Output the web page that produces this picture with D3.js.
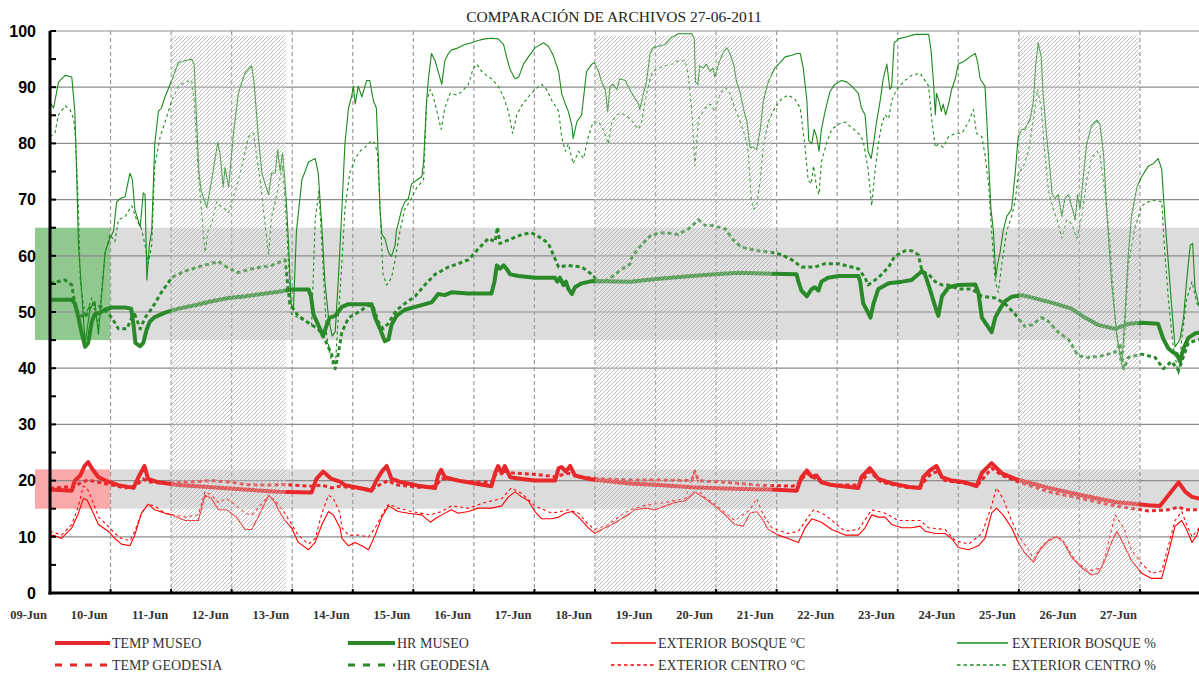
<!DOCTYPE html>
<html lang="es">
<head>
<meta charset="UTF-8">
<script src="https://d3js.org/d3.v7.min.js" charset="utf-8"></script>
<title>Comparación de archivos</title>
<style>
  body { margin: 0; background: #fff; }
  svg { display: block; }
</style>
</head>
<body>
<div id="chart"></div>
<script>
// eje x: días desde 09-Jun 00:00
const dayLabels = ["09-Jun","10-Jun","11-Jun","12-Jun","13-Jun","14-Jun","15-Jun","16-Jun","17-Jun","18-Jun",
  "19-Jun","20-Jun","21-Jun","22-Jun","23-Jun","24-Jun","25-Jun","26-Jun","27-Jun"];
const yTicks = [0,10,20,30,40,50,60,70,80,90,100];
// fines de semana / festivos (rayado)
const hatchPeriods = [[2, 3.89], [9, 11.92], [16, 17.98]];
// rangos de referencia
const hrBand = [45, 65];
const tempBand = [15, 22];

// [día, valor]
const tempMuseo = [[0,18.4],[0.36,18.2],[0.41,20.0],[0.50,20.9],[0.57,22.6],[0.63,23.3],[0.69,22.2],[0.80,20.6],[0.96,19.8],[1.13,19.2],[1.38,18.7],[1.46,20.6],[1.56,22.6],[1.62,20.3],[1.79,19.7],[2.12,19.2],[2.67,18.8],[3.22,18.4],[3.77,18.0],[4.32,17.9],[4.40,20.3],[4.51,21.6],[4.65,20.3],[4.79,19.8],
  [4.87,19.2],[5.15,18.6],[5.31,18.2],[5.39,20.0],[5.48,21.6],[5.56,22.6],[5.64,20.3],[5.81,19.7],[6.08,19.1],[6.36,18.7],[6.41,20.9],[6.46,21.9],[6.52,20.6],[6.74,20.0],[7.02,19.5],[7.29,19.0],[7.35,21.3],[7.40,22.6],[7.46,21.3],[7.51,22.6],[7.60,20.6],[7.79,20.3],[8.01,20.0],[8.34,20.0],[8.40,22.2],[8.45,22.4],[8.52,21.6],[8.59,22.6],[8.67,20.9],[8.89,20.3],[9.11,20.0],[9.58,19.5],
  [10.05,19.2],[10.60,18.8],[11.15,18.6],[11.92,18.4],[12.33,18.2],[12.41,20.6],[12.50,21.8],[12.58,20.7],[12.66,20.9],[12.74,19.7],[12.91,19.2],[13.35,18.7],[13.40,20.6],[13.54,22.2],[13.68,20.3],[13.90,19.5],[14.23,18.8],
  [14.37,18.7],[14.42,20.6],[14.53,21.8],[14.64,22.6],[14.73,20.6],[14.89,20.0],[15.11,19.7],[15.30,19.0],[15.39,21.4],[15.55,23.1],[15.72,21.3],[15.94,20.3],[16.49,18.7],[17.04,17.4],[17.59,16.2],[18.14,15.6],[18.33,15.5],[18.47,17.4],[18.64,19.7],[18.75,18.0],[18.86,17.1],[18.98,16.8]];

const tempGeodesia = [[0,18.6],[0.41,19.0],[0.52,19.7],[0.63,20.1],[0.80,19.7],[1.02,19.2],[1.24,18.7],[1.41,19.0],[1.54,20.3],[1.62,19.8],[1.90,19.5],[2.23,19.7],[2.67,20.0],[3.00,19.7],[3.22,19.3],[3.55,19.2],[3.88,19.3],[4.32,19.0],[4.49,19.2],[4.65,18.7],[4.79,19.0],
  [4.98,18.7],[5.31,18.4],[5.48,19.5],[5.59,20.0],[5.70,19.3],[6.08,18.8],[6.36,19.0],[6.47,20.3],[6.58,20.3],[6.91,19.8],[7.29,19.7],[7.40,21.9],[7.51,21.6],[7.62,21.4],[8.01,21.1],[8.34,20.7],[8.56,21.3],[8.78,20.6],[9.11,20.3],[9.58,20.1],
  [10.05,20.1],[10.60,20.0],[10.65,21.6],[10.71,20.0],[11.15,19.7],[11.70,19.2],[12.25,19.0],[12.33,19.2],[12.50,21.3],[12.69,20.0],[12.91,19.2],[13.35,19.2],[13.54,21.6],[13.73,19.7],[14.18,18.7],[14.37,19.0],
  [14.56,21.3],[14.67,21.6],[14.78,20.0],[15.11,19.5],[15.33,19.3],[15.55,22.2],[15.72,20.9],[15.94,20.0],[16.49,18.0],[17.04,16.8],[17.59,15.5],[18.14,14.6],[18.47,14.8],[18.64,15.3],[18.75,14.8],[18.98,14.8]];

const hrMuseo = [[0,52.2],[0.36,52.2],[0.41,51.5],[0.47,49.0],[0.52,46.4],[0.58,43.8],[0.63,44.5],[0.69,48.3],[0.74,49.6],[0.83,49.9],[0.91,50.4],[1.02,50.8],[1.24,50.8],[1.34,50.6],[1.38,47.7],[1.41,44.5],[1.49,43.9],[1.54,44.5],[1.60,47.0],[1.65,48.3],[1.73,49.1],[1.90,49.9],[2.12,50.6],[2.39,51.2],[2.67,51.9],[2.95,52.5],[3.22,52.8],[3.50,53.2],[3.77,53.6],[3.99,54.0],[4.27,54.0],[4.31,52.8],[4.35,49.6],[4.43,47.7],[4.51,45.7],[4.57,47.7],[4.62,49.0],[4.71,49.3],
  [4.82,50.9],[4.93,51.4],[5.31,51.4],[5.37,49.0],[5.45,47.0],[5.53,44.8],[5.59,45.1],[5.64,47.7],[5.72,49.3],[5.86,50.4],[6.03,50.9],[6.30,51.7],[6.36,52.5],[6.41,53.2],[6.52,53.0],[6.63,53.5],[6.91,53.3],[7.29,53.3],[7.34,55.4],[7.38,58.3],[7.43,57.7],[7.49,58.3],[7.54,57.7],[7.60,56.7],[7.74,56.4],[8.01,56.1],[8.34,56.1],[8.38,55.4],[8.42,56.1],[8.48,54.8],[8.52,55.4],[8.56,54.1],[8.62,53.2],[8.67,54.4],[8.78,55.1],[8.95,55.5],[9.58,55.4],
  [10.05,55.9],[10.60,56.4],[10.98,56.7],[11.37,57.0],[11.92,56.8],[12.33,56.7],[12.36,55.4],[12.41,53.8],[12.50,52.8],[12.58,54.1],[12.63,54.4],[12.69,53.8],[12.74,55.4],[12.85,56.1],[13.02,56.4],[13.35,56.4],[13.38,55.4],[13.43,51.5],[13.51,49.9],[13.55,49.0],[13.60,51.5],[13.68,54.1],[13.85,55.1],[14.07,55.4],[14.23,55.7],[14.34,56.7],
  [14.40,57.3],[14.45,56.7],[14.53,54.1],[14.62,50.9],[14.67,49.3],[14.73,52.8],[14.84,54.4],[15.00,54.8],[15.28,54.9],[15.33,53.5],[15.39,49.0],[15.47,47.7],[15.55,46.4],[15.61,49.0],[15.69,50.6],[15.77,51.9],[15.88,52.7],[16.05,53.0],[16.32,52.3],[16.60,51.5],[16.87,50.6],[17.09,49.0],[17.31,47.7],[17.59,47.0],[17.81,47.9],[18.03,48.1],[18.30,47.9],[18.39,45.1],[18.47,43.5],[18.55,42.8],[18.61,42.5],[18.66,41.2],[18.72,43.5],[18.80,45.4],[18.91,46.2],[18.98,46.3]];

const hrGeodesia = [[0,55.1],[0.25,55.7],[0.36,54.8],[0.41,51.5],[0.47,49.6],[0.58,49.0],[0.69,51.5],[0.85,50.9],[1.02,49.0],[1.13,47.0],[1.27,47.0],[1.35,49.0],[1.40,49.6],[1.49,47.0],[1.57,49.0],[1.68,50.6],[1.84,53.5],[2.01,56.1],[2.23,57.3],[2.45,58.0],[2.78,59.0],[2.92,58.0],[3.11,57.0],[3.33,57.7],[3.66,58.3],[3.88,59.3],[3.96,51.5],[4.10,49.3],[4.32,47.7],[4.43,47.0],[4.54,45.1],[4.65,42.5],[4.71,39.9],[4.76,42.5],
  [4.82,46.4],[4.93,49.0],[5.04,49.6],[5.26,51.2],[5.34,50.9],[5.42,48.3],[5.50,47.0],[5.59,48.0],[5.72,50.3],[5.86,51.5],[6.03,52.8],[6.19,54.8],[6.36,56.7],[6.58,58.0],[6.74,58.6],[6.91,59.3],[7.07,61.2],[7.24,63.1],[7.35,62.5],[7.39,65.1],[7.43,62.2],[7.57,62.8],[7.79,63.8],[7.95,64.1],[8.12,63.1],[8.23,62.2],[8.31,60.2],[8.40,58.0],[8.56,58.3],[8.78,58.0],[8.95,56.7],[9.06,55.4],[9.17,55.4],[9.33,56.7],[9.50,58.0],[9.58,58.6],
  [9.61,59.9],[9.77,61.9],[9.94,63.8],[10.16,64.1],[10.38,63.8],[10.54,64.8],[10.71,66.4],[10.82,65.4],[10.93,65.4],[11.15,64.8],[11.26,63.1],[11.42,61.5],[11.70,60.9],[11.92,60.6],[12.08,60.2],[12.25,59.3],[12.41,58.0],[12.63,58.0],[12.80,58.6],[13.02,58.6],[13.24,58.0],[13.35,57.7],[13.46,56.1],[13.51,54.8],[13.68,56.1],[13.85,58.0],[13.95,59.9],[14.12,60.9],[14.23,60.9],[14.34,60.2],
  [14.40,57.3],[14.51,56.7],[14.62,55.4],[14.73,54.8],[14.84,54.8],[15.00,54.1],[15.22,54.1],[15.39,52.8],[15.61,52.5],[15.77,51.5],[15.94,49.6],[16.10,47.4],[16.21,47.7],[16.38,49.0],[16.49,48.3],[16.65,46.4],[16.82,45.1],[16.98,42.2],[17.15,41.9],[17.37,42.2],[17.59,42.8],[17.67,44.5],[17.73,39.9],[17.81,41.9],[18.03,42.5],[18.25,41.9],[18.39,39.9],[18.52,41.2],[18.64,39.6],[18.69,41.2],[18.80,44.5],[18.98,45.1]];

const extBosqueC = [[0,10.3],[0.08,10.2],[0.19,9.7],[0.36,11.6],[0.47,14.2],[0.55,16.8],[0.61,16.6],[0.69,14.8],[0.80,12.2],[0.96,11.0],[1.07,9.7],[1.18,8.7],[1.32,8.4],[1.40,10.3],[1.51,14.2],[1.62,15.8],[1.73,14.8],[1.90,14.2],[2.01,13.9],[2.23,12.9],[2.45,12.9],[2.56,17.4],[2.67,16.8],[2.78,14.8],[2.92,14.8],[3.08,13.5],[3.22,11.3],[3.33,11.3],[3.47,14.2],[3.61,17.4],[3.72,16.1],[3.77,14.8],[3.88,12.9],[3.99,11.6],[4.10,9.0],[4.27,7.7],[4.38,9.0],[4.49,12.2],[4.60,14.5],[4.68,13.9],[4.79,11.6],
  [4.82,9.7],[4.93,8.4],[5.04,9.0],[5.15,8.4],[5.26,7.7],[5.37,10.3],[5.48,13.5],[5.59,15.5],[5.75,14.5],[5.92,14.2],[6.14,13.9],[6.28,12.6],[6.36,13.2],[6.47,13.9],[6.63,14.8],[6.74,14.2],[6.91,14.5],[7.07,15.1],[7.29,15.1],[7.46,15.5],[7.57,17.1],[7.68,18.0],[7.79,17.1],[7.90,16.4],[8.01,14.5],[8.12,13.2],[8.29,13.2],[8.40,13.5],[8.51,14.2],[8.62,14.5],[8.73,13.5],[8.89,11.6],[9.00,10.6],[9.11,11.3],[9.28,12.2],[9.44,13.2],[9.58,14.2],
  [9.66,14.8],[9.83,15.1],[9.99,14.8],[10.16,15.5],[10.32,16.1],[10.49,16.4],[10.65,18.0],[10.82,16.8],[10.98,15.5],[11.15,13.9],[11.31,12.2],[11.45,11.9],[11.56,14.2],[11.67,14.5],[11.78,12.9],[11.86,11.3],[12.03,10.3],[12.19,9.7],[12.36,9.0],[12.47,11.6],[12.58,13.2],[12.74,12.6],[12.91,11.3],[13.13,10.3],[13.35,10.3],[13.46,11.6],[13.57,13.9],[13.68,13.5],[13.79,13.5],[13.90,12.2],[14.07,11.6],[14.23,11.6],[14.37,11.9],
  [14.45,11.0],[14.62,10.6],[14.78,10.6],[14.89,9.7],[15.00,8.1],[15.17,7.7],[15.33,8.4],[15.44,9.7],[15.55,14.2],[15.63,15.1],[15.74,13.9],[15.88,11.6],[15.99,9.0],[16.10,7.1],[16.24,5.5],[16.35,7.7],[16.49,9.3],[16.63,10.0],[16.74,9.0],[16.87,6.4],[17.04,4.5],[17.20,3.2],[17.31,3.5],[17.42,5.8],[17.53,9.0],[17.62,11.0],[17.70,9.3],[17.86,5.8],[18.03,3.5],[18.19,2.6],[18.36,2.6],[18.47,7.1],[18.58,11.9],[18.69,12.9],[18.77,11.3],[18.86,9.0],[18.94,10.3],[18.98,11.6]];

const extCentroC = [[0,11.0],[0.19,10.3],[0.36,12.2],[0.47,15.5],[0.55,19.0],[0.61,18.7],[0.69,16.8],[0.80,13.5],[0.96,11.9],[1.07,10.6],[1.18,9.7],[1.32,9.3],[1.40,11.0],[1.51,14.2],[1.62,15.8],[1.73,15.5],[1.90,14.2],[2.23,13.5],[2.45,13.9],[2.56,18.0],[2.67,17.4],[2.78,16.1],[2.92,16.8],[3.08,15.5],[3.22,14.2],[3.33,13.9],[3.47,15.5],[3.61,17.4],[3.72,16.4],[3.88,14.2],[3.99,12.2],[4.10,10.3],[4.27,8.7],[4.38,9.7],[4.49,14.2],[4.60,17.4],[4.68,16.8],[4.79,14.2],
  [4.82,11.6],[4.93,10.3],[5.09,10.3],[5.26,10.0],[5.37,11.6],[5.53,14.8],[5.59,15.8],[5.75,15.1],[5.97,14.5],[6.28,13.9],[6.47,14.5],[6.63,15.5],[6.91,15.1],[7.18,16.1],[7.46,16.8],[7.62,18.7],[7.79,17.7],[8.01,15.5],[8.29,14.2],[8.56,14.8],[8.73,14.2],[8.89,12.2],[9.00,11.3],[9.22,12.2],[9.44,13.9],[9.58,14.8],
  [9.83,15.6],[10.16,16.1],[10.49,16.8],[10.65,21.9],[10.76,17.4],[10.98,15.8],[11.31,12.9],[11.56,14.8],[11.67,16.8],[11.78,13.9],[11.92,11.6],[12.19,10.6],[12.36,11.0],[12.50,13.2],[12.61,14.8],[12.80,13.9],[13.13,11.0],[13.35,11.3],[13.57,14.8],[13.79,14.2],[14.01,12.9],[14.23,12.9],[14.37,12.9],
  [14.51,11.6],[14.78,11.3],[14.95,9.3],[15.17,8.7],[15.39,10.6],[15.55,15.5],[15.63,18.7],[15.74,16.8],[15.88,12.9],[15.99,10.3],[16.16,7.7],[16.24,6.1],[16.38,8.4],[16.54,10.0],[16.71,9.7],[16.93,5.8],[17.15,3.9],[17.37,4.5],[17.48,9.0],[17.59,13.9],[17.73,11.6],[17.86,7.7],[18.03,5.2],[18.19,3.5],[18.36,3.9],[18.47,8.4],[18.58,12.9],[18.69,14.5],[18.77,12.2],[18.86,10.0],[18.98,11.6]];

const extBosqueH = [[0,87.3],[0.06,86.3],[0.14,90.9],[0.25,92.1],[0.36,91.8],[0.41,85.7],[0.44,74.7],[0.47,61.9],[0.58,44.5],[0.66,50.5],[0.74,51.9],[0.80,46.0],[0.91,60.6],[0.99,63.1],[1.05,64.4],[1.10,69.6],[1.16,70.2],[1.24,70.5],[1.32,74.7],[1.36,73.5],[1.40,68.3],[1.49,65.1],[1.54,71.2],[1.57,70.9],[1.60,55.7],[1.64,61.9],[1.68,64.4],[1.73,79.9],[1.79,85.7],[1.84,86.3],[1.90,88.3],[2.01,91.2],[2.12,94.4],[2.23,94.7],[2.34,95.0],[2.38,94.1],[2.42,84.4],[2.46,74.7],[2.50,71.5],[2.59,68.6],[2.67,73.5],[2.77,80.2],[2.81,78.0],[2.86,72.2],[2.89,75.7],[2.95,72.2],[3.03,81.8],[3.11,88.9],[3.22,92.5],[3.33,93.8],[3.37,90.9],[3.44,81.2],[3.50,74.7],[3.55,72.8],[3.61,70.9],[3.66,74.7],[3.72,74.7],[3.76,78.9],[3.80,75.1],[3.84,78.3],[3.87,74.7],[3.91,68.3],[3.94,61.9],[3.98,51.5],[4.02,50.3],[4.07,64.4],[4.16,73.5],[4.27,76.7],[4.38,77.3],[4.43,74.7],[4.49,65.1],[4.54,55.4],[4.60,49.0],[4.66,45.7],
  [4.71,46.5],[4.76,55.4],[4.82,68.3],[4.87,79.9],[4.93,86.3],[4.98,88.3],[5.01,90.2],[5.04,87.0],[5.09,90.2],[5.15,88.3],[5.23,91.2],[5.28,91.2],[5.34,87.6],[5.39,86.3],[5.42,78.0],[5.45,68.3],[5.48,63.8],[5.53,63.1],[5.59,60.6],[5.64,59.9],[5.70,61.9],[5.72,64.4],[5.78,67.0],[5.81,68.3],[5.86,69.6],[5.92,70.2],[5.97,72.8],[6.06,73.5],[6.14,74.1],[6.17,76.7],[6.19,81.2],[6.22,87.6],[6.25,91.5],[6.30,96.0],[6.36,94.7],[6.41,92.8],[6.47,90.5],[6.52,94.7],[6.58,96.0],[6.63,96.6],[6.74,97.0],[6.85,97.6],[6.96,97.9],[7.07,98.3],[7.18,98.6],[7.29,98.7],[7.40,98.6],[7.49,97.6],[7.54,95.4],[7.60,93.1],[7.68,91.5],[7.74,91.8],[7.82,94.1],[7.90,95.4],[8.01,97.0],[8.15,97.9],[8.23,97.3],[8.31,95.7],[8.40,92.8],[8.45,88.9],[8.51,87.0],[8.56,85.7],[8.62,83.1],[8.64,80.9],[8.70,83.8],[8.78,85.1],[8.86,92.8],[8.95,94.1],[8.99,94.4],[9.06,92.8],[9.11,90.9],[9.17,89.6],[9.21,85.7],[9.25,90.2],[9.30,90.5],[9.36,89.6],[9.41,91.5],[9.50,91.2],
  [9.61,88.9],[9.72,87.0],[9.74,86.0],[9.80,88.9],[9.85,90.9],[9.91,96.0],[9.96,97.0],[10.05,97.3],[10.16,97.6],[10.27,98.9],[10.38,99.5],[10.49,99.5],[10.60,99.5],[10.64,98.6],[10.66,90.9],[10.70,90.5],[10.73,93.8],[10.79,93.4],[10.84,94.1],[10.90,92.8],[10.95,93.4],[10.98,91.8],[11.04,94.1],[11.12,96.3],[11.18,97.0],[11.23,96.0],[11.29,94.1],[11.34,90.9],[11.40,88.9],[11.45,86.3],[11.51,83.8],[11.56,79.3],[11.62,79.3],[11.67,78.9],[11.73,82.5],[11.78,87.6],[11.86,90.9],[11.97,93.4],[12.06,94.4],[12.14,95.4],[12.25,95.7],[12.33,96.0],[12.39,96.0],[12.44,93.4],[12.50,87.6],[12.53,80.5],[12.58,79.9],[12.62,82.5],[12.66,81.2],[12.70,78.6],[12.74,82.5],[12.80,85.7],[12.88,89.2],[12.96,90.5],[13.07,91.2],[13.16,90.9],[13.24,90.2],[13.35,88.9],[13.40,86.3],[13.46,85.1],[13.51,78.6],[13.56,77.3],[13.60,79.9],[13.65,83.8],[13.71,87.6],[13.76,91.5],[13.82,94.1],[13.87,89.6],[13.90,90.2],[13.94,97.9],[14.01,98.6],[14.12,98.9],[14.29,99.4],[14.37,99.4],
  [14.51,99.4],[14.55,96.6],[14.59,90.9],[14.62,85.1],[14.64,88.9],[14.68,87.6],[14.72,85.7],[14.75,87.0],[14.79,85.1],[14.84,87.0],[14.89,89.6],[14.95,91.5],[15.00,94.1],[15.11,94.7],[15.19,95.4],[15.28,96.0],[15.32,94.4],[15.36,91.5],[15.44,90.2],[15.47,84.4],[15.51,74.7],[15.54,68.3],[15.58,64.4],[15.62,56.1],[15.65,58.6],[15.69,60.6],[15.74,64.4],[15.80,67.0],[15.88,68.3],[15.94,74.7],[15.99,81.2],[16.05,82.5],[16.10,82.5],[16.19,84.4],[16.24,87.6],[16.28,94.1],[16.32,97.9],[16.37,95.4],[16.40,88.9],[16.46,81.2],[16.52,74.7],[16.55,70.9],[16.60,70.2],[16.65,70.9],[16.71,67.0],[16.76,70.2],[16.82,70.9],[16.87,68.9],[16.93,66.4],[16.97,70.9],[17.01,68.3],[17.07,74.7],[17.12,79.9],[17.20,83.1],[17.29,84.1],[17.34,83.4],[17.40,78.0],[17.45,68.3],[17.53,55.4],[17.62,45.7],[17.70,40.6],[17.75,49.0],[17.81,60.6],[17.86,67.0],[17.95,72.2],[18.03,74.1],[18.14,76.0],[18.22,76.4],[18.30,77.3],[18.36,75.4],[18.41,67.0],[18.47,58.6],[18.52,51.5],[18.58,43.8],[18.66,45.1],[18.72,49.0],[18.77,55.4],[18.83,61.9],[18.87,62.2],[18.91,54.1],[18.98,50.9]];

const extCentroH = [[0,81.2],[0.08,81.8],[0.14,85.1],[0.25,86.7],[0.33,86.0],[0.39,84.4],[0.42,81.2],[0.47,68.3],[0.50,55.4],[0.58,49.0],[0.69,52.5],[0.80,47.5],[0.91,60.6],[0.99,63.8],[1.07,62.5],[1.13,66.4],[1.24,67.0],[1.35,68.9],[1.43,66.4],[1.51,64.8],[1.57,61.9],[1.62,58.6],[1.68,61.9],[1.73,76.0],[1.82,81.2],[1.90,83.8],[2.01,87.6],[2.12,90.2],[2.23,90.9],[2.34,91.2],[2.38,87.6],[2.45,74.7],[2.50,68.3],[2.56,60.6],[2.61,64.4],[2.67,65.7],[2.75,69.6],[2.81,68.9],[2.89,68.3],[2.95,67.7],[3.00,69.6],[3.08,72.2],[3.17,76.0],[3.28,81.2],[3.36,81.8],[3.41,78.0],[3.47,73.5],[3.55,65.7],[3.61,60.2],[3.66,67.0],[3.72,69.6],[3.77,72.2],[3.84,76.0],[3.88,70.2],[3.94,58.6],[3.99,49.6],[4.10,49.0],[4.21,48.3],[4.32,47.7],[4.38,66.4],[4.44,71.5],[4.49,61.9],[4.57,45.7],[4.65,41.2],[4.71,39.9],
  [4.76,49.0],[4.82,58.6],[4.87,68.3],[4.95,74.7],[5.04,77.3],[5.12,78.6],[5.20,79.3],[5.31,80.5],[5.37,79.9],[5.41,78.0],[5.45,68.3],[5.50,56.7],[5.56,54.8],[5.64,56.1],[5.70,59.3],[5.78,64.4],[5.86,68.3],[5.97,70.2],[6.06,72.2],[6.17,73.5],[6.22,87.6],[6.28,89.6],[6.33,88.3],[6.39,85.7],[6.46,82.5],[6.52,86.3],[6.61,88.9],[6.72,88.6],[6.80,89.2],[6.91,90.5],[6.99,93.4],[7.05,94.1],[7.13,92.8],[7.21,92.1],[7.29,91.5],[7.40,90.2],[7.49,88.3],[7.57,85.7],[7.64,81.8],[7.71,85.1],[7.79,86.7],[7.90,88.3],[8.01,89.6],[8.12,90.5],[8.20,89.6],[8.29,87.6],[8.40,85.7],[8.45,81.2],[8.51,78.6],[8.56,79.9],[8.64,76.4],[8.73,78.6],[8.81,77.3],[8.89,81.2],[8.97,83.8],[9.06,83.8],[9.14,82.5],[9.22,79.9],[9.28,83.8],[9.36,85.1],[9.44,85.4],[9.58,84.4],
  [9.72,82.5],[9.77,83.8],[9.83,87.6],[9.91,91.5],[9.96,92.8],[10.05,93.4],[10.16,93.8],[10.27,94.1],[10.38,94.7],[10.49,94.7],[10.54,92.1],[10.60,85.7],[10.65,76.0],[10.71,84.4],[10.82,86.3],[10.90,87.0],[10.98,85.7],[11.07,88.9],[11.15,89.9],[11.23,88.9],[11.31,86.3],[11.40,83.8],[11.48,81.2],[11.53,78.6],[11.58,70.2],[11.62,68.3],[11.67,68.9],[11.73,73.5],[11.78,79.3],[11.86,83.8],[11.97,86.3],[12.08,87.9],[12.19,88.6],[12.30,87.9],[12.39,86.3],[12.47,79.3],[12.52,73.5],[12.57,72.8],[12.61,76.0],[12.66,72.2],[12.70,70.9],[12.74,76.7],[12.83,80.2],[12.91,82.5],[13.02,83.4],[13.13,83.8],[13.24,82.8],[13.35,81.8],[13.43,80.5],[13.51,75.4],[13.57,68.9],[13.62,74.7],[13.68,79.9],[13.73,83.1],[13.79,85.1],[13.85,84.4],[13.90,87.6],[13.98,89.6],[14.12,91.2],[14.23,92.1],[14.37,92.5],
  [14.51,90.2],[14.56,84.4],[14.62,79.3],[14.67,79.9],[14.75,79.3],[14.84,81.2],[14.95,81.8],[15.06,81.8],[15.17,83.8],[15.25,86.0],[15.30,81.8],[15.39,81.2],[15.44,78.0],[15.50,72.8],[15.55,64.4],[15.61,55.4],[15.66,53.5],[15.72,58.6],[15.80,64.4],[15.88,67.0],[15.94,69.6],[15.99,74.7],[16.08,76.0],[16.16,78.6],[16.24,84.4],[16.31,89.6],[16.37,86.3],[16.43,78.0],[16.49,71.5],[16.57,68.3],[16.65,65.7],[16.71,63.1],[16.79,66.4],[16.87,65.7],[16.96,63.1],[17.04,67.0],[17.12,73.5],[17.20,77.3],[17.29,78.6],[17.34,78.0],[17.42,71.5],[17.51,61.9],[17.59,49.0],[17.67,41.2],[17.73,42.5],[17.81,58.6],[17.92,65.1],[18.03,68.9],[18.14,69.6],[18.25,69.9],[18.36,69.6],[18.41,60.6],[18.47,52.2],[18.55,43.8],[18.64,38.7],[18.69,45.1],[18.77,52.2],[18.86,55.4],[18.94,51.5],[18.98,50.9]];

const width = 1199, height = 680;
const x = d3.scaleLinear().domain([0, 19]).range([50, 1200.5]);
const y = d3.scaleLinear().domain([0, 100]).range([593, 31]);
const plotRight = 1199;

const RED = "#ff0000", RED_K = "#e8282a", GREEN = "#1a8a1a", GREEN_K = "#2a8a2a";

const series = [
  { name: "EXTERIOR CENTRO %",  data: extCentroH,  color: GREEN,   w: 1.1, dash: "3,3", legDash: "3.5,3" },
  { name: "EXTERIOR BOSQUE %",  data: extBosqueH,  color: GREEN,   w: 1.1, dash: null,  legDash: null },
  { name: "EXTERIOR CENTRO °C", data: extCentroC,  color: RED,     w: 1.1, dash: "3,3", legDash: "3.5,3" },
  { name: "EXTERIOR BOSQUE °C", data: extBosqueC,  color: RED,     w: 1.1, dash: null,  legDash: null },
  { name: "HR GEODESIA",        data: hrGeodesia,  color: GREEN_K, w: 3,   dash: "4,3", legDash: "7,8" },
  { name: "TEMP GEODESIA",      data: tempGeodesia,color: RED_K,   w: 3,   dash: "4,3", legDash: "7,8" },
  { name: "HR MUSEO",           data: hrMuseo,     color: GREEN_K, w: 4,   dash: null,  legDash: null },
  { name: "TEMP MUSEO",         data: tempMuseo,   color: RED_K,   w: 4,   dash: null,  legDash: null }
];

const svg = d3.select("#chart").append("svg")
  .attr("width", width).attr("height", height);

const defs = svg.append("defs");
const pat = defs.append("pattern").attr("id", "hatch")
  .attr("patternUnits", "userSpaceOnUse").attr("width", 4).attr("height", 4);
pat.append("rect").attr("width", 4).attr("height", 4).attr("fill", "#fff").attr("fill-opacity", 0.2);
pat.append("path").attr("d", "M-1,1 l2,-2 M0,4 l4,-4 M3,5 l2,-2")
  .attr("stroke", "#a8a8a8").attr("stroke-width", 0.75);

// bandas de referencia
function band(range, fill) {
  svg.append("rect")
    .attr("x", 35).attr("width", x(1) - 35)
    .attr("y", y(range[1])).attr("height", y(range[0]) - y(range[1]))
    .attr("fill", fill);
  svg.append("rect")
    .attr("x", x(1)).attr("width", plotRight - x(1))
    .attr("y", y(range[1])).attr("height", y(range[0]) - y(range[1]))
    .attr("fill", "#dcdcdc");
}
band(hrBand, "#90c890");
band(tempBand, "#f9a9a9");

// rejilla horizontal
svg.append("g").selectAll("line").data(yTicks.filter(d => d > 0)).join("line")
  .attr("x1", 50).attr("x2", plotRight)
  .attr("y1", d => y(d)).attr("y2", d => y(d))
  .attr("stroke", "#8c8c8c").attr("stroke-width", 1.2);

// líneas verticales de días
svg.append("g").selectAll("line").data(d3.range(1, 19)).join("line")
  .attr("x1", d => x(d)).attr("x2", d => x(d))
  .attr("y1", y(100)).attr("y2", y(0))
  .attr("stroke", "#9a9a9a").attr("stroke-width", 1.2).attr("stroke-dasharray", "4,3");

// series
const line = d3.line().x(d => x(d[0])).y(d => y(d[1]));
svg.append("g").selectAll("path").data(series).join("path")
  .attr("d", d => line(d.data))
  .attr("fill", "none")
  .attr("stroke", d => d.color)
  .attr("stroke-width", d => d.w)
  .attr("stroke-dasharray", d => d.dash)
  .attr("stroke-linejoin", "round");

// rayado encima
svg.append("g").selectAll("rect").data(hatchPeriods).join("rect")
  .attr("x", d => x(d[0])).attr("width", d => x(d[1]) - x(d[0]))
  .attr("y", y(99.2)).attr("height", y(0) - y(99.2))
  .attr("fill", "url(#hatch)");

// ejes
svg.append("line").attr("x1", 50).attr("x2", 50).attr("y1", y(100)).attr("y2", y(0) + 1.5)
  .attr("stroke", "#000").attr("stroke-width", 3);
svg.append("line").attr("x1", 48.5).attr("x2", plotRight).attr("y1", y(0)).attr("y2", y(0))
  .attr("stroke", "#000").attr("stroke-width", 3);
svg.append("g").selectAll("line").data(d3.range(5, 101, 5)).join("line")
  .attr("x1", 50).attr("x2", 56).attr("y1", d => y(d)).attr("y2", d => y(d))
  .attr("stroke", "#000").attr("stroke-width", 2);
svg.append("g").selectAll("line").data(d3.range(1, 19)).join("line")
  .attr("x1", d => x(d)).attr("x2", d => x(d)).attr("y1", y(0)).attr("y2", y(0) - 4)
  .attr("stroke", "#000").attr("stroke-width", 2);

svg.append("g").selectAll("text").data(yTicks).join("text")
  .attr("x", 36).attr("y", d => y(d)).attr("dy", "0.36em")
  .attr("text-anchor", "end")
  .style("font", "bold 16px 'Liberation Sans', Arial, sans-serif")
  .text(d => d);

svg.append("g").selectAll("text").data(dayLabels).join("text")
  .attr("x", (d, i) => x(i) - 3).attr("y", 619)
  .attr("text-anchor", "end")
  .style("font", "bold 12.5px 'Liberation Serif', 'Times New Roman', serif")
  .attr("fill", "#333")
  .text(d => d);

svg.append("text").attr("x", 614).attr("y", 22).attr("text-anchor", "middle")
  .style("font", "15.5px 'Liberation Serif', 'Times New Roman', serif")
  .attr("fill", "#222")
  .text("COMPARACIÓN DE ARCHIVOS 27-06-2011");

// leyenda
const legendItems = [
  { s: "TEMP MUSEO",         col: 0, row: 0 },
  { s: "TEMP GEODESIA",      col: 0, row: 1 },
  { s: "HR MUSEO",           col: 1, row: 0 },
  { s: "HR GEODESIA",        col: 1, row: 1 },
  { s: "EXTERIOR BOSQUE °C", col: 2, row: 0 },
  { s: "EXTERIOR CENTRO °C", col: 2, row: 1 },
  { s: "EXTERIOR BOSQUE %",  col: 3, row: 0 },
  { s: "EXTERIOR CENTRO %",  col: 3, row: 1 }
];
const legCols = [[55, 110], [348, 395], [611, 656], [957, 1008]];
const legRows = [643, 665];
const bySeries = name => series.find(e => e.name === name);
const lg = svg.append("g").selectAll("g").data(legendItems).join("g");
lg.append("line")
  .attr("x1", d => legCols[d.col][0]).attr("x2", d => legCols[d.col][1])
  .attr("y1", d => legRows[d.row]).attr("y2", d => legRows[d.row])
  .attr("stroke", d => bySeries(d.s).color)
  .attr("stroke-width", d => bySeries(d.s).w < 2 ? 1.4 : bySeries(d.s).w)
  .attr("stroke-dasharray", d => bySeries(d.s).legDash);
lg.append("text")
  .attr("x", d => legCols[d.col][1] + (d.col === 3 ? 4 : 2))
  .attr("y", d => legRows[d.row]).attr("dy", "0.35em")
  .style("font", "14px 'Liberation Serif', 'Times New Roman', serif")
  .attr("fill", "#333")
  .text(d => d.s);
</script>
</body>
</html>
